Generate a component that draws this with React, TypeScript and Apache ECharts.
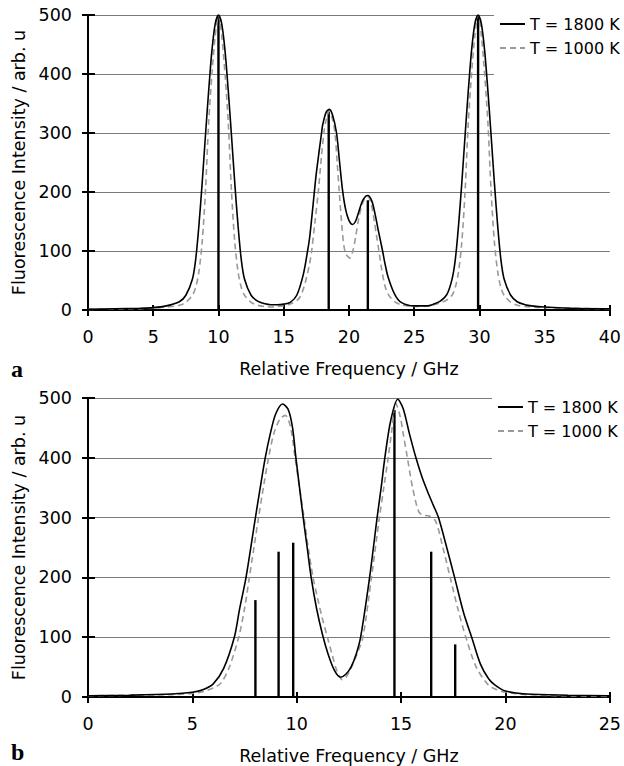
import { useEffect, useRef } from "react";
import * as echarts from "echarts";

const NAME_HOT = "T = 1800 K";
const NAME_COLD = "T = 1000 K";
const xTitle = "Relative Frequency / GHz";
const yTitle = "Fluorescence Intensity / arb. u";

// Panel a
const aHot: [number, number][] = [[0,1],[2,2],[4,3],[5,4],[6,7],[7,14],[7.5,25],[8,52],[8.25,85],[8.5,143],[8.75,215],[9,295],[9.25,372],[9.5,440],[9.75,485],[10,500],[10.25,485],[10.5,440],[10.75,372],[11,295],[11.25,215],[11.5,143],[11.75,85],[12,52],[12.5,25],[13,15],[13.5,11],[14,9],[14.5,9],[15,10],[15.5,13],[16,25],[16.5,60],[16.83,100],[17,125],[17.35,200],[17.5,232],[17.9,300],[18,315],[18.25,335],[18.5,340],[18.75,330],[19.05,300],[19.25,258],[19.5,205],[19.75,170],[20,152],[20.28,145],[20.5,150],[20.75,166],[21,183],[21.25,192],[21.45,194],[21.75,185],[22,163],[22.25,135],[22.58,100],[22.75,80],[23,56],[23.5,27],[24,13],[25,7],[26,7],[26.5,10],[27,15],[27.5,26],[27.9,52],[28.15,85],[28.4,143],[28.65,215],[28.9,295],[29.15,372],[29.4,440],[29.65,485],[29.9,500],[30.15,485],[30.4,440],[30.65,372],[30.9,295],[31.15,215],[31.4,143],[31.65,85],[31.9,52],[32.4,25],[32.9,14],[33.5,9],[34,7],[35,5],[37,3],[40,2]];
const aCold: [number, number][] = [[0,1],[3,2],[5,3],[6,5],[7,8],[7.5,13],[8,25],[8.25,38],[8.5,65],[8.75,115],[9,200],[9.25,318],[9.5,400],[9.75,465],[10,500],[10.25,465],[10.5,400],[10.75,318],[11,200],[11.25,115],[11.5,65],[11.75,38],[12,25],[12.5,13],[13,8],[13.5,6],[14,5],[14.5,6],[15,7],[15.5,10],[16,16],[16.25,22],[16.5,35],[16.75,55],[17,80],[17.14,100],[17.4,150],[17.65,200],[17.9,262],[18.08,300],[18.25,322],[18.5,338],[18.75,322],[18.93,300],[19.1,250],[19.26,200],[19.45,145],[19.62,108],[19.8,94],[20.08,88],[20.3,100],[20.5,122],[20.75,155],[21,178],[21.25,190],[21.45,192],[21.7,180],[21.95,150],[22.1,128],[22.3,100],[22.5,70],[22.75,42],[23,27],[23.5,14],[24,9],[25,6],[26,7],[26.5,9],[27,12],[27.5,17],[27.9,25],[28.15,38],[28.4,65],[28.65,115],[28.9,200],[29.15,318],[29.4,400],[29.65,465],[29.9,500],[30.15,465],[30.4,400],[30.65,318],[30.9,200],[31.15,115],[31.4,65],[31.65,38],[31.9,25],[32.4,13],[32.9,8],[33.5,6],[34,5],[35,4],[37,3],[40,2]];
const aSticks: [number, number][] = [[10,500],[18.45,336],[21.45,186],[29.9,500]];

// Panel b
const bHot: [number, number][] = [[0,2],[2,3],[4,5],[5,8],[5.5,12],[6,22],[6.5,48],[7.01,100],[7.25,145],[7.57,200],[8.02,300],[8.25,350],[8.49,400],[8.75,443],[9,474],[9.32,490],[9.6,480],[9.8,450],[9.96,400],[10.31,300],[10.5,250],[10.69,200],[10.95,148],[11.23,105],[11.5,72],[11.8,45],[12.1,33],[12.35,38],[12.6,50],[12.85,72],[13.06,100],[13.49,200],[13.85,300],[14.05,352],[14.22,400],[14.5,462],[14.84,498],[15.1,482],[15.4,440],[15.71,400],[16,368],[16.32,339],[16.55,320],[16.79,300],[17.2,248],[17.56,200],[18,140],[18.38,100],[18.8,55],[19.2,30],[19.5,20],[20,10],[21,5],[23,3],[25,2]];
const bCold: [number, number][] = [[0,2],[2,3],[4,4],[5,6],[5.5,9],[6,15],[6.38,24],[6.75,48],[7.22,100],[7.5,148],[7.73,200],[8.17,300],[8.4,350],[8.65,400],[8.9,440],[9.2,465],[9.45,471],[9.7,452],[9.92,400],[10.35,300],[10.55,250],[10.78,200],[11,165],[11.2,135],[11.47,100],[11.7,70],[11.9,46],[12.05,34],[12.18,29],[12.4,35],[12.65,52],[12.92,75],[13.17,100],[13.58,200],[13.96,300],[14.17,350],[14.38,400],[14.55,445],[14.73,492],[14.95,470],[15.1,440],[15.3,400],[15.55,350],[15.84,310],[16.05,304],[16.3,303],[16.64,295],[17,250],[17.35,200],[17.7,150],[18.1,100],[18.6,50],[19.18,20],[19.6,12],[20,8],[21,4],[23,2],[25,1]];
const bSticks: [number, number][] = [[8.02,162],[9.13,243],[9.83,258],[14.68,480],[16.44,243],[17.59,88]];

const FONT = "DejaVu Sans";
const black = "#000";
const axisLineStyle = { color: black, width: 2 };

function xAxes(gridIndex: number, max: number) {
  return [
    {
      type: "value", gridIndex, min: 0, max, interval: 5, position: "bottom",
      name: xTitle, nameLocation: "middle", nameGap: 50,
      nameTextStyle: { fontSize: 17.5, color: black, fontFamily: FONT },
      axisLine: { show: true, onZero: false, lineStyle: axisLineStyle },
      axisTick: { show: true, inside: true, length: 5, lineStyle: axisLineStyle },
      axisLabel: { fontSize: 17.5, color: black, fontFamily: FONT, margin: 18 },
      splitLine: { show: false },
    },
    {
      type: "value", gridIndex, min: 0, max, interval: 5, position: "bottom",
      axisLine: { show: false, onZero: false },
      axisTick: { show: true, inside: false, length: 6, lineStyle: axisLineStyle },
      axisLabel: { show: false },
      splitLine: { show: false },
    },
  ];
}

function yAxes(gridIndex: number) {
  return [
    {
      type: "value", gridIndex, min: 0, max: 500, interval: 100, position: "left",
      name: yTitle, nameLocation: "middle", nameGap: 54, nameRotate: 90,
      nameTextStyle: { fontSize: 17.5, color: black, fontFamily: FONT },
      axisLine: { show: true, onZero: false, lineStyle: axisLineStyle },
      axisTick: { show: true, inside: true, length: 7, lineStyle: axisLineStyle },
      axisLabel: { fontSize: 17.5, color: black, fontFamily: FONT, margin: 16 },
      splitLine: { show: true, lineStyle: { color: "#7a7a7a", width: 1.2 } },
    },
    {
      type: "value", gridIndex, min: 0, max: 500, interval: 100, position: "left",
      axisLine: { show: false, onZero: false },
      axisTick: { show: true, inside: false, length: 6, lineStyle: axisLineStyle },
      axisLabel: { show: false },
      splitLine: { show: false },
    },
  ];
}

function curves(xi: number, hot: [number, number][], cold: [number, number][], sticks: [number, number][], tag: string) {
  return [
    {
      type: "bar", name: "sticks " + tag, xAxisIndex: xi, yAxisIndex: xi,
      data: sticks, barWidth: 2.4, itemStyle: { color: black }, z: 2,
    },
    {
      type: "line", name: NAME_COLD, xAxisIndex: xi, yAxisIndex: xi, data: cold,
      showSymbol: false, symbol: "none", smooth: 0.3,
      lineStyle: { color: "#9a9a9a", width: 1.6, type: [6, 4] }, itemStyle: { color: "#9a9a9a" }, z: 3,
    },
    {
      type: "line", name: NAME_HOT, xAxisIndex: xi, yAxisIndex: xi, data: hot,
      showSymbol: false, symbol: "none", smooth: 0.3,
      lineStyle: { color: black, width: 1.6 }, itemStyle: { color: black }, z: 4,
    },
  ];
}

function legend(left: number, top: number) {
  return {
    data: [NAME_HOT, NAME_COLD], left, top, orient: "vertical", padding: 0,
    itemWidth: 25, itemHeight: 14, itemGap: 8, selectedMode: false,
    itemStyle: { opacity: 0 },
    textStyle: { fontSize: 16, color: black, fontFamily: FONT, lineHeight: 16 },
  };
}

const option = {
  animation: false,
  backgroundColor: "#fff",
  textStyle: { fontFamily: FONT },
  grid: [
    { left: 88, top: 15, width: 522, height: 295 },
    { left: 88, top: 398, width: 524, height: 302 },
  ],
  xAxis: [...xAxes(0, 40), ...xAxes(1, 25)],
  yAxis: [...yAxes(0), ...yAxes(1)],
  legend: [legend(499, 16), legend(497, 399)],
  series: [
    ...curves(0, aHot, aCold, aSticks, "a"),
    ...curves(2, bHot, bCold, bSticks, "b"),
  ],
  graphic: [
    { type: "rect", z: 3, shape: { x: 494, y: 4, width: 130, height: 86 }, style: { fill: "#fff" } },
    { type: "rect", z: 3, shape: { x: 492, y: 388, width: 132, height: 82 }, style: { fill: "#fff" } },
    { type: "text", z: 5, x: 11, y: 369, style: { text: "a", font: 'bold 24px "Liberation Serif"', fill: black, verticalAlign: "middle" } },
    { type: "text", z: 5, x: 11, y: 752, style: { text: "b", font: 'bold 24px "Liberation Serif"', fill: black, verticalAlign: "middle" } },
  ],
};

export default function App() {
  const ref = useRef<HTMLDivElement>(null);
  useEffect(() => {
    const chart = echarts.init(ref.current!, null, { renderer: "svg" });
    chart.setOption(option as any);
    return () => chart.dispose();
  }, []);
  return (
    <div
      ref={ref}
      style={{ position: "fixed", left: 0, top: 0, width: 624, height: 766, background: "#fff" }}
    />
  );
}
